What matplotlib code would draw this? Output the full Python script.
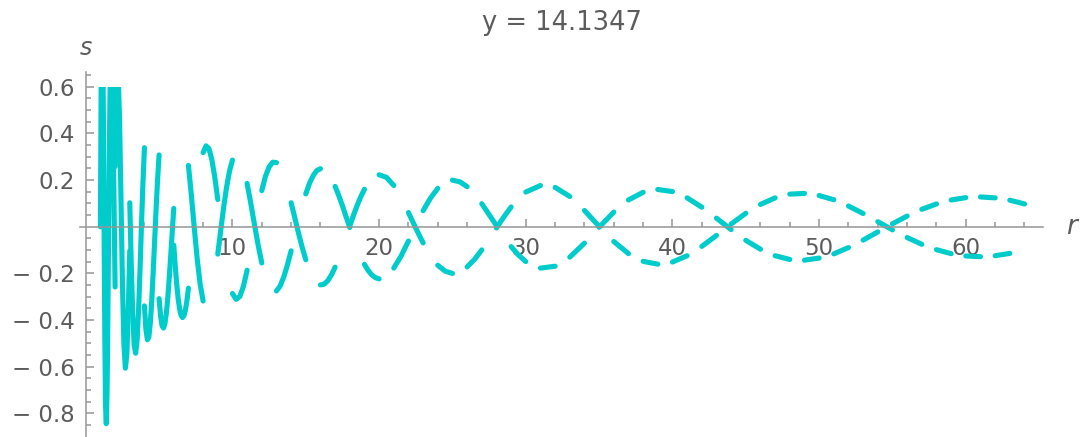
import numpy as np
import matplotlib
matplotlib.use("Agg")
import matplotlib.pyplot as plt
from matplotlib.patches import Rectangle
from matplotlib.ticker import FixedLocator, FixedFormatter

TITLE = "y = 14.1347"
X_LABEL = "r"
Y_LABEL = "s"

# Sample positions along r, sampled more densely where the wave is fast
r_part1 = np.round(np.arange(1.0, 2.0001, 0.05), 2)
r_part2 = np.round(np.arange(2.1, 7.0001, 0.1), 2)
r_part3 = np.round(np.arange(7.2, 10.0001, 0.2), 2)
r_part4 = np.round(np.arange(10.25, 20.0001, 0.25), 2)
r_part5 = np.round(np.arange(20.5, 30.0001, 0.5), 2)
r_part6 = np.round(np.arange(31.0, 64.0001, 1.0), 2)

# Signed wave values at those positions (the plotted branch flips sign on every unit of r)
wave_part1 = [0.000, -0.621, -0.930, -0.857, -0.488, 0.011, 0.471, 0.767, 0.844, 0.713,
              0.428, 0.071, -0.279, -0.556, -0.720, -0.755, -0.670, -0.490, -0.250, 0.011,
              0.258]
wave_part2 = [0.603, 0.667, 0.470, 0.123, -0.238, -0.501, -0.606, -0.547, -0.359, -0.103,
              0.159, 0.374, 0.506, 0.542, 0.486, 0.357, 0.182, -0.011, -0.191, -0.339,
              -0.439, -0.484, -0.473, -0.413, -0.315, -0.190, -0.054, 0.082, 0.206, 0.308,
              0.381, 0.424, 0.434, 0.414, 0.367, 0.298, 0.212, 0.117, 0.018, -0.079,
              -0.168, -0.245, -0.308, -0.353, -0.380, -0.389, -0.380, -0.355, -0.315, -0.263]
wave_part3 = [-0.135, 0.006, 0.139, 0.247, 0.318, 0.347, 0.335, 0.287, 0.211, 0.117,
              0.016, -0.083, -0.170, -0.239, -0.286]
wave_part4 = [-0.311, -0.299, -0.255, -0.186, -0.101, -0.010, 0.077, 0.155,
              0.216, 0.257, 0.277, 0.275, 0.254, 0.215, 0.163, 0.103,
              0.039, -0.026, -0.087, -0.141, -0.186, -0.219, -0.241, -0.249,
              -0.246, -0.231, -0.206, -0.173, -0.134, -0.090, -0.043, 0.003,
              0.049, 0.091, 0.129, 0.161, 0.187, 0.206, 0.218, 0.223]
wave_part5 = [0.212, 0.177, 0.125, 0.061, -0.006, -0.069, -0.123, -0.165, -0.190, -0.200,
              -0.193, -0.172, -0.140, -0.099, -0.052, -0.005, 0.042, 0.085, 0.121, 0.149]
wave_part6 = [0.177, 0.169, 0.130, 0.070, 0.002, -0.063, -0.115, -0.148, -0.160, -0.151,
              -0.124, -0.084, -0.037, 0.012, 0.058, 0.096, 0.124, 0.140, 0.143, 0.134,
              0.116, 0.089, 0.057, 0.022, -0.013, -0.046, -0.075, -0.098, -0.115, -0.125,
              -0.128, -0.124, -0.114, -0.098]

x_major = [10, 20, 30, 40, 50, 60]
y_major = [-0.8, -0.6, -0.4, -0.2, 0.2, 0.4, 0.6]
y_labels = ["\u2212 0.8", "\u2212 0.6", "\u2212 0.4", "\u2212 0.2", "0.2", "0.4", "0.6"]

CURVE = "#00cccc"
AXIS = "#969696"
TEXT = "#5c5c5c"

r_all = np.concatenate([r_part1, r_part2, r_part3, r_part4, r_part5, r_part6])
w_all = np.concatenate([wave_part1, wave_part2, wave_part3, wave_part4, wave_part5, wave_part6])

fig = plt.figure(figsize=(10.92, 4.37), dpi=100)
ax = fig.add_axes([0.0733, 0.0, 0.8818, 0.836])
ax.set_xlim(-0.39, 65.26)
ax.set_ylim(-0.901, 0.665)

# plot range is cut at s = 0.6
clip = Rectangle((-5, -2), 80, 2.6, transform=ax.transData)

for n in range(1, 64):
    sel = (r_all >= n - 1e-9) & (r_all <= n + 1 + 1e-9)
    branch = -1.0 if n % 2 else 1.0
    line, = ax.plot(r_all[sel], branch * w_all[sel], color=CURVE, lw=3.7,
                    solid_capstyle="round", solid_joinstyle="round")
    line.set_clip_path(clip)

for side in ("top", "right"):
    ax.spines[side].set_visible(False)
ax.spines["left"].set_position(("data", 0))
ax.spines["bottom"].set_position(("data", 0))
for side in ("left", "bottom"):
    ax.spines[side].set_color(AXIS)
    ax.spines[side].set_linewidth(1.1)

ax.xaxis.set_major_locator(FixedLocator(x_major))
ax.xaxis.set_major_formatter(FixedFormatter([str(v) for v in x_major]))
ax.xaxis.set_minor_locator(FixedLocator([v for v in range(2, 66, 2) if v % 10]))
ax.yaxis.set_major_locator(FixedLocator(y_major))
ax.yaxis.set_major_formatter(FixedFormatter(y_labels))
ax.yaxis.set_minor_locator(FixedLocator([round(v, 2) for v in np.arange(-0.85, 0.66, 0.05)
                                         if abs(round(v / 0.2) * 0.2 - v) > 1e-6]))

ax.tick_params(axis="both", which="both", direction="in", colors=AXIS, labelcolor=TEXT,
               labelsize=16.5, width=1.1)
ax.tick_params(axis="both", which="major", length=6)
ax.tick_params(axis="both", which="minor", length=3.5)
ax.tick_params(axis="x", pad=7)
ax.tick_params(axis="y", pad=8)
ax.set_facecolor("none")

ax.text(0, 0.767, Y_LABEL, ha="center", va="center", fontsize=17, color=TEXT,
        style="italic", clip_on=False)
ax.text(67.2, 0.0, X_LABEL, ha="center", va="center", fontsize=19, color=TEXT,
        style="italic", clip_on=False)
fig.text(0.5147, 0.948, TITLE, ha="center", va="center", fontsize=18.5, color=TEXT)

fig.savefig("out.png", dpi=100)
